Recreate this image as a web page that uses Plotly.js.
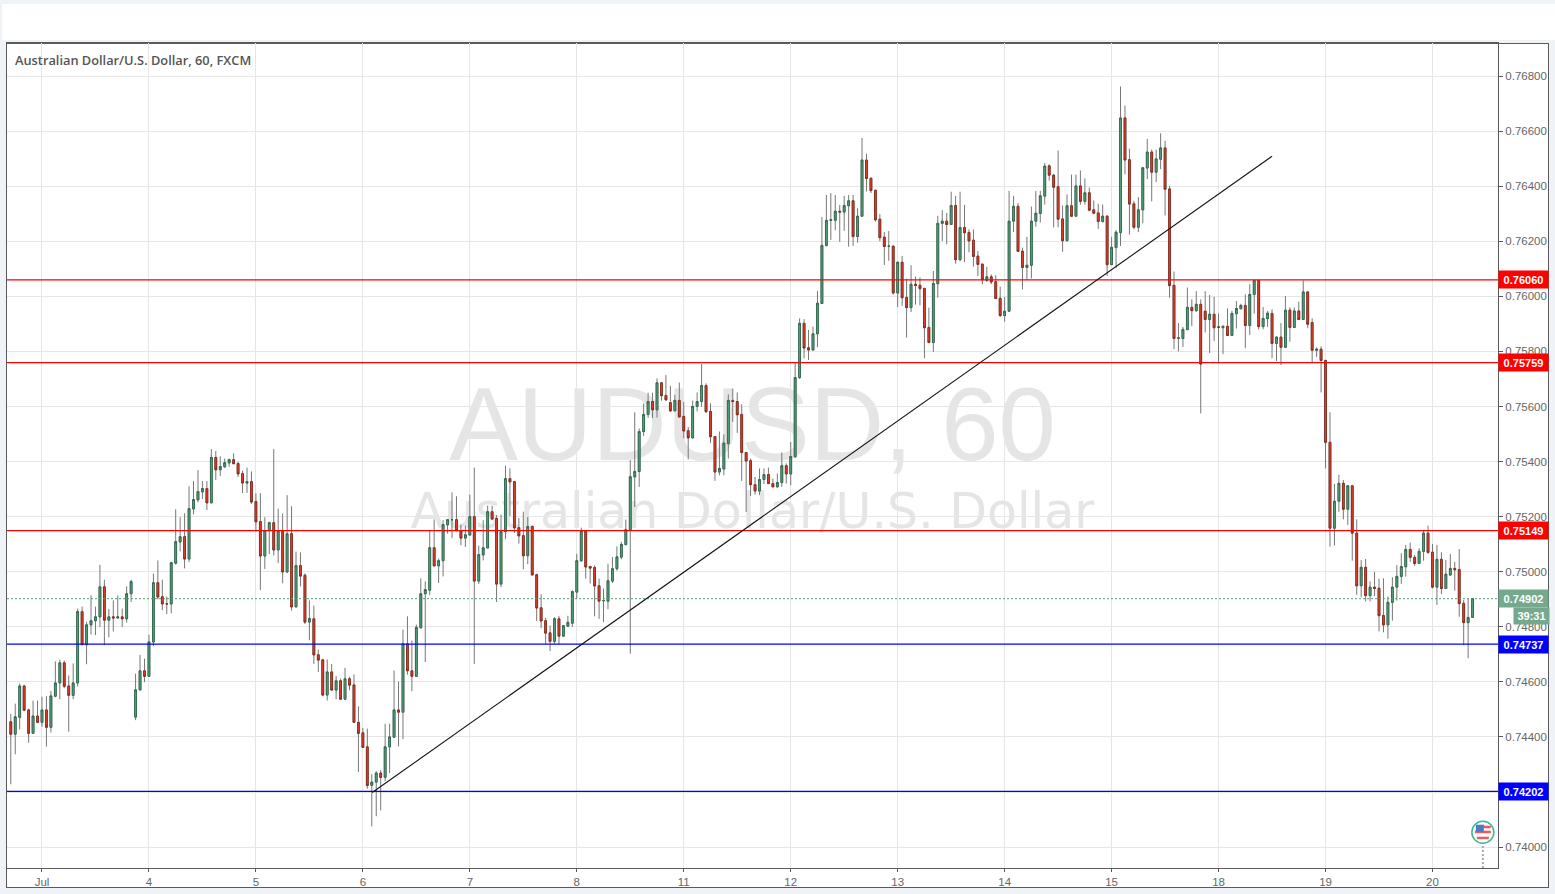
<!DOCTYPE html>
<html>
<head>
<meta charset="utf-8">
<script src="https://cdn.plot.ly/plotly-3.0.1.min.js"></script>
<style>
html,body{margin:0;padding:0;background:#eff3f7;width:1555px;height:894px;overflow:hidden}
#band{position:absolute;left:2px;top:4px;width:1553px;height:36px;background:#fff}
#frame{position:absolute;left:6px;top:43px;width:1543px;height:845px;background:#fff;box-sizing:border-box;border:1px solid #5a5a5a}
#chart{position:absolute;left:0;top:0;width:1555px;height:894px}
</style>
</head>
<body>
<div id="band"></div>
<div id="frame"></div>
<div id="chart"></div>
<script>
const opens=[
0.74455,0.74410,0.74471,0.74585,0.74498,0.74413,0.74476,0.74453,0.74498,0.74435,
0.74548,0.74596,0.74669,0.74585,0.74551,0.74596,0.74855,0.74735,0.74807,0.74822,
0.74836,0.74945,0.74824,0.74836,0.74832,0.74836,0.74829,0.74920,0.74472,0.74571,
0.74640,0.74620,0.74745,0.74960,0.74909,0.74883,0.74883,0.75031,0.75108,0.75127,
0.75046,0.75228,0.75261,0.75290,0.75302,0.75250,0.75415,0.75370,0.75381,0.75395,
0.75407,0.75393,0.75356,0.75322,0.75327,0.75255,0.75182,0.75057,0.75149,0.75178,
0.75079,0.75149,0.74999,0.75138,0.74872,0.75022,0.74987,0.74817,0.74829,0.74698,
0.74680,0.74552,0.74636,0.74570,0.74604,0.74537,0.74611,0.74589,0.74453,0.74415,
0.74364,0.74224,0.74236,0.74269,0.74253,0.74364,0.74399,0.74498,0.74490,0.74738,
0.74640,0.74620,0.74796,0.74920,0.74933,0.75087,0.75021,0.75040,0.75170,0.75189,
0.75189,0.75149,0.75122,0.75133,0.75200,0.74966,0.75061,0.75086,0.75218,0.75193,
0.74955,0.75145,0.75338,0.75327,0.75160,0.75131,0.75058,0.75165,0.74989,0.74869,
0.74822,0.74778,0.74747,0.74829,0.74766,0.74802,0.74813,0.74926,0.75039,0.75147,
0.75019,0.75015,0.74949,0.74895,0.74893,0.74966,0.75011,0.75053,0.75098,0.75150,
0.75344,0.75364,0.75509,0.75571,0.75618,0.75588,0.75686,0.75640,0.75614,0.75584,
0.75622,0.75564,0.75512,0.75486,0.75600,0.75618,0.75676,0.75582,0.75491,0.75362,
0.75373,0.75465,0.75622,0.75618,0.75571,0.75433,0.75403,0.75316,0.75293,0.75335,
0.75353,0.75320,0.75308,0.75324,0.75385,0.75355,0.75417,0.75705,0.75902,0.75813,
0.75805,0.75864,0.75974,0.76184,0.76276,0.76276,0.76309,0.76306,0.76329,0.76347,
0.76217,0.76291,0.76495,0.76429,0.76385,0.76280,0.76215,0.76182,0.76182,0.76012,
0.76124,0.75996,0.75959,0.76044,0.76040,0.76029,0.75887,0.75832,0.76046,0.76265,
0.76273,0.76261,0.76330,0.76133,0.76250,0.76232,0.76204,0.76146,0.76117,0.76058,
0.76071,0.76053,0.75993,0.75930,0.75946,0.76273,0.76327,0.76164,0.76105,0.76113,
0.76273,0.76301,0.76364,0.76474,0.76440,0.76398,0.76281,0.76202,0.76329,0.76291,
0.76401,0.76345,0.76376,0.76314,0.76303,0.76272,0.76291,0.76115,0.76177,0.76232,
0.76648,0.76496,0.76336,0.76251,0.76314,0.76466,0.76524,0.76451,0.76498,0.76539,
0.76390,0.76040,0.75848,0.75847,0.75879,0.75960,0.75948,0.75971,0.75946,0.75916,
0.75935,0.75889,0.75886,0.75891,0.75858,0.75937,0.75955,0.75967,0.75894,0.76007,
0.76058,0.75890,0.75919,0.75938,0.75829,0.75852,0.75815,0.75950,0.75887,0.75947,
0.75916,0.76016,0.75905,0.75804,0.75808,0.75767,0.75470,0.75158,0.75256,0.75321,
0.75227,0.75312,0.75140,0.74949,0.75016,0.74913,0.74944,0.74940,0.74841,0.74807,
0.74889,0.74944,0.74983,0.75018,0.75081,0.75052,0.75030,0.75074,0.75140,0.75071,
0.74944,0.75045,0.74939,0.74988,0.75012,0.75008,0.74885,0.74815,0.74834];
const highs=[
0.74484,0.74521,0.74594,0.74589,0.74503,0.74532,0.74532,0.74546,0.74549,0.74567,
0.74674,0.74680,0.74677,0.74623,0.74667,0.74866,0.74873,0.74818,0.74914,0.74873,
0.75025,0.74971,0.74865,0.74896,0.74914,0.74866,0.74947,0.74971,0.74630,0.74698,
0.74684,0.74771,0.74993,0.75041,0.74971,0.74910,0.75033,0.75227,0.75198,0.75212,
0.75310,0.75329,0.75369,0.75329,0.75329,0.75445,0.75438,0.75419,0.75411,0.75411,
0.75430,0.75400,0.75367,0.75378,0.75364,0.75285,0.75285,0.75198,0.75182,0.75445,
0.75229,0.75211,0.75278,0.75238,0.75073,0.75070,0.74994,0.74896,0.74877,0.74717,
0.74681,0.74681,0.74665,0.74621,0.74612,0.74651,0.74618,0.74627,0.74511,0.74433,
0.74430,0.74265,0.74276,0.74280,0.74448,0.74448,0.74641,0.74601,0.74790,0.74838,
0.74750,0.74808,0.74976,0.74965,0.75148,0.75190,0.75048,0.75187,0.75189,0.75288,
0.75274,0.75171,0.75168,0.75280,0.75378,0.75095,0.75187,0.75240,0.75240,0.75206,
0.75207,0.75385,0.75375,0.75330,0.75195,0.75218,0.75199,0.75165,0.74993,0.74918,
0.74832,0.74805,0.74835,0.74839,0.74804,0.74840,0.74932,0.75065,0.75160,0.75147,
0.75019,0.75023,0.74975,0.74939,0.75029,0.75053,0.75092,0.75108,0.75189,0.75405,
0.75579,0.75520,0.75611,0.75650,0.75650,0.75702,0.75686,0.75714,0.75675,0.75643,
0.75687,0.75617,0.75526,0.75621,0.75651,0.75754,0.75684,0.75611,0.75492,0.75509,
0.75499,0.75644,0.75665,0.75651,0.75608,0.75433,0.75411,0.75344,0.75375,0.75375,
0.75378,0.75338,0.75356,0.75433,0.75393,0.75471,0.75759,0.75920,0.75917,0.75878,
0.75890,0.76019,0.76288,0.76368,0.76375,0.76368,0.76332,0.76365,0.76368,0.76368,
0.76320,0.76575,0.76518,0.76430,0.76388,0.76298,0.76234,0.76237,0.76186,0.76124,
0.76147,0.76064,0.76113,0.76072,0.76069,0.76029,0.75959,0.76092,0.76292,0.76313,
0.76303,0.76380,0.76365,0.76380,0.76332,0.76243,0.76243,0.76165,0.76117,0.76107,
0.76080,0.76077,0.76035,0.75998,0.76383,0.76365,0.76339,0.76177,0.76216,0.76326,
0.76383,0.76383,0.76484,0.76479,0.76445,0.76530,0.76330,0.76370,0.76442,0.76442,
0.76457,0.76428,0.76395,0.76348,0.76336,0.76333,0.76295,0.76216,0.76240,0.76762,
0.76693,0.76536,0.76347,0.76360,0.76467,0.76572,0.76533,0.76533,0.76592,0.76565,
0.76401,0.76090,0.75903,0.75889,0.76032,0.75989,0.76019,0.75989,0.76019,0.76005,
0.75998,0.75938,0.75895,0.75956,0.75947,0.75983,0.75973,0.76007,0.76044,0.76058,
0.76058,0.75961,0.75947,0.75953,0.75855,0.75903,0.76001,0.75960,0.75960,0.75981,
0.76058,0.76019,0.75920,0.75815,0.75818,0.75770,0.75579,0.75319,0.75352,0.75333,
0.75315,0.75315,0.75190,0.75042,0.75046,0.74965,0.74999,0.74974,0.74976,0.74910,
0.74980,0.75024,0.75067,0.75097,0.75106,0.75061,0.75085,0.75152,0.75167,0.75101,
0.75097,0.75071,0.75043,0.75064,0.75036,0.75082,0.74897,0.74903,0.74902];
const lows=[
0.74228,0.74337,0.74427,0.74493,0.74379,0.74413,0.74450,0.74437,0.74365,0.74416,
0.74544,0.74537,0.74577,0.74419,0.74537,0.74583,0.74735,0.74664,0.74772,0.74770,
0.74799,0.74733,0.74762,0.74783,0.74829,0.74799,0.74815,0.74890,0.74461,0.74568,
0.74599,0.74618,0.74730,0.74900,0.74860,0.74846,0.74849,0.75026,0.75074,0.75012,
0.75035,0.75208,0.75252,0.75264,0.75224,0.75250,0.75333,0.75348,0.75377,0.75381,
0.75392,0.75344,0.75286,0.75286,0.75246,0.75146,0.74933,0.75010,0.75064,0.75059,
0.75031,0.74958,0.74995,0.74859,0.74872,0.74947,0.74810,0.74751,0.74665,0.74636,
0.74548,0.74532,0.74570,0.74537,0.74537,0.74537,0.74570,0.74450,0.74272,0.74362,
0.74212,0.74075,0.74112,0.74133,0.74239,0.74269,0.74399,0.74366,0.74392,0.74626,
0.74566,0.74620,0.74796,0.74672,0.74915,0.75021,0.74959,0.74983,0.75138,0.75122,
0.75148,0.75096,0.75090,0.75132,0.74665,0.74955,0.75041,0.75086,0.75187,0.74890,
0.74944,0.75118,0.75202,0.75141,0.75102,0.75009,0.75027,0.74988,0.74821,0.74795,
0.74738,0.74712,0.74738,0.74736,0.74766,0.74801,0.74799,0.74902,0.75039,0.74975,
0.74957,0.74838,0.74829,0.74817,0.74864,0.74959,0.75004,0.75045,0.75098,0.74702,
0.75235,0.75308,0.75493,0.75559,0.75558,0.75560,0.75621,0.75621,0.75580,0.75584,
0.75562,0.75484,0.75408,0.75484,0.75582,0.75599,0.75577,0.75467,0.75330,0.75350,
0.75350,0.75411,0.75544,0.75504,0.75330,0.75217,0.75275,0.75280,0.75278,0.75318,
0.75318,0.75308,0.75306,0.75308,0.75320,0.75314,0.75415,0.75700,0.75775,0.75769,
0.75805,0.75815,0.75974,0.76184,0.76205,0.76240,0.76198,0.76238,0.76180,0.76183,
0.76195,0.76291,0.76381,0.76375,0.76271,0.76200,0.76114,0.76129,0.76007,0.75961,
0.75965,0.75850,0.75943,0.75970,0.75967,0.75775,0.75832,0.75798,0.75995,0.76201,
0.76189,0.76261,0.76118,0.76128,0.76125,0.76160,0.76108,0.76074,0.76044,0.76052,
0.76044,0.75992,0.75925,0.75908,0.75946,0.76234,0.76163,0.76025,0.76061,0.76065,
0.76253,0.76268,0.76333,0.76420,0.76250,0.76251,0.76162,0.76199,0.76291,0.76291,
0.76333,0.76333,0.76309,0.76298,0.76245,0.76268,0.76074,0.76115,0.76103,0.76183,
0.76443,0.76224,0.76243,0.76233,0.76265,0.76426,0.76345,0.76415,0.76462,0.76294,
0.75995,0.75808,0.75800,0.75816,0.75879,0.75892,0.75944,0.75575,0.75869,0.75794,
0.75838,0.75757,0.75790,0.75858,0.75858,0.75883,0.75953,0.75812,0.75860,0.75937,
0.75880,0.75880,0.75889,0.75775,0.75765,0.75750,0.75815,0.75835,0.75887,0.75916,
0.75916,0.75884,0.75758,0.75780,0.75651,0.75375,0.75091,0.75095,0.75218,0.75190,
0.75170,0.75040,0.74916,0.74907,0.74892,0.74892,0.74911,0.74783,0.74780,0.74757,
0.74822,0.74895,0.74956,0.74982,0.75036,0.75021,0.75028,0.75040,0.75065,0.74939,
0.74879,0.74919,0.74939,0.74984,0.74931,0.74836,0.74733,0.74686,0.74834];
const closes=[
0.74410,0.74473,0.74585,0.74497,0.74413,0.74476,0.74453,0.74498,0.74435,0.74549,
0.74596,0.74669,0.74584,0.74551,0.74596,0.74855,0.74735,0.74807,0.74822,0.74836,
0.74945,0.74824,0.74836,0.74832,0.74836,0.74829,0.74920,0.74964,0.74571,0.74640,
0.74620,0.74745,0.74960,0.74908,0.74883,0.74883,0.75033,0.75109,0.75127,0.75046,
0.75229,0.75262,0.75291,0.75302,0.75250,0.75415,0.75370,0.75382,0.75396,0.75407,
0.75392,0.75355,0.75322,0.75327,0.75253,0.75181,0.75057,0.75149,0.75178,0.75079,
0.75149,0.74999,0.75138,0.74872,0.75022,0.74984,0.74817,0.74830,0.74698,0.74679,
0.74552,0.74636,0.74570,0.74604,0.74537,0.74611,0.74588,0.74453,0.74413,0.74362,
0.74224,0.74236,0.74269,0.74253,0.74364,0.74400,0.74498,0.74490,0.74738,0.74640,
0.74620,0.74798,0.74920,0.74935,0.75087,0.75021,0.75040,0.75171,0.75189,0.75189,
0.75149,0.75122,0.75134,0.75200,0.74966,0.75062,0.75087,0.75218,0.75191,0.74955,
0.75145,0.75338,0.75326,0.75159,0.75130,0.75058,0.75164,0.74988,0.74868,0.74821,
0.74777,0.74747,0.74829,0.74766,0.74804,0.74816,0.74928,0.75040,0.75147,0.75017,
0.75013,0.74948,0.74893,0.74895,0.74967,0.75011,0.75054,0.75099,0.75153,0.75345,
0.75364,0.75509,0.75571,0.75618,0.75588,0.75686,0.75639,0.75624,0.75584,0.75622,
0.75562,0.75511,0.75486,0.75600,0.75618,0.75676,0.75581,0.75490,0.75362,0.75375,
0.75467,0.75622,0.75618,0.75570,0.75433,0.75402,0.75316,0.75293,0.75335,0.75353,
0.75320,0.75308,0.75324,0.75385,0.75355,0.75418,0.75705,0.75902,0.75812,0.75805,
0.75864,0.75975,0.76185,0.76276,0.76278,0.76309,0.76306,0.76330,0.76347,0.76217,
0.76291,0.76495,0.76428,0.76384,0.76278,0.76213,0.76181,0.76182,0.76012,0.76124,
0.75995,0.75959,0.76044,0.76039,0.76028,0.75886,0.75832,0.76047,0.76265,0.76273,
0.76261,0.76330,0.76133,0.76250,0.76231,0.76201,0.76145,0.76116,0.76060,0.76071,
0.76052,0.75992,0.75930,0.75946,0.76273,0.76327,0.76163,0.76105,0.76113,0.76273,
0.76302,0.76365,0.76473,0.76440,0.76396,0.76280,0.76202,0.76329,0.76291,0.76401,
0.76345,0.76376,0.76313,0.76302,0.76272,0.76291,0.76115,0.76178,0.76233,0.76648,
0.76495,0.76335,0.76251,0.76314,0.76467,0.76524,0.76451,0.76499,0.76539,0.76389,
0.76039,0.75847,0.75849,0.75880,0.75960,0.75948,0.75971,0.75754,0.75916,0.75935,
0.75886,0.75888,0.75891,0.75858,0.75938,0.75956,0.75967,0.75894,0.76007,0.76058,
0.75890,0.75920,0.75939,0.75829,0.75852,0.75815,0.75950,0.75887,0.75947,0.75916,
0.76016,0.75899,0.75804,0.75808,0.75767,0.75470,0.75158,0.75256,0.75321,0.75227,
0.75312,0.75140,0.74949,0.75016,0.74913,0.74944,0.74939,0.74840,0.74807,0.74889,
0.74944,0.74983,0.75019,0.75081,0.75052,0.75030,0.75074,0.75140,0.75070,0.74944,
0.75045,0.74939,0.74991,0.75012,0.75007,0.74884,0.74815,0.74834,0.74902];

const barIndex=opens.map((_,i)=>i);
const yTicks=[0.74,0.742,0.744,0.746,0.748,0.75,0.752,0.754,0.756,0.758,0.76,0.762,0.764,0.766,0.768];
const dayBars=[7,31,55,79,103,127,151,175,199,223,247,271,295,319];
const dayLabels=['Jul','4','5','6','7','8','11','12','13','14','15','18','19','20'];
const levels=[
 {price:0.76060,label:'0.76060',line:'#ff0000',box:'#ff0000'},
 {price:0.75759,label:'0.75759',line:'#ff0000',box:'#ff0000'},
 {price:0.75149,label:'0.75149',line:'#ff0000',box:'#ff0000'},
 {price:0.74737,label:'0.74737',line:'#0000ff',box:'#0000ff'},
 {price:0.74202,label:'0.74202',line:'#0000ff',box:'#0000ff'}
];
const lastPrice=0.74902, countdown='39:31', lastColor='#74a98d';
const trend={x0:81.1,y0:0.74198,x1:283,y1:0.76509};
const eventBar=330.3, eventPrice=0.74054;

const bodyHigh=opens.map((o,i)=>Math.max(o,closes[i]));
const bodyLow=opens.map((o,i)=>Math.min(o,closes[i]));

const wickColor='#777777';
const traces=[
 {type:'candlestick',x:barIndex,open:opens,high:highs,low:lows,close:closes,whiskerwidth:0,hoverinfo:'skip',
  increasing:{line:{color:wickColor,width:1},fillcolor:wickColor},
  decreasing:{line:{color:wickColor,width:1},fillcolor:wickColor}},
 {type:'candlestick',x:barIndex,open:opens,high:bodyHigh,low:bodyLow,close:closes,whiskerwidth:0,hoverinfo:'skip',
  increasing:{line:{color:'#2d6a4e',width:0.9},fillcolor:'#5aa880'},
  decreasing:{line:{color:'#8a2a1c',width:0.9},fillcolor:'#e8402c'}}
];

const shapes=[
 {type:'rect',xref:'paper',yref:'paper',x0:0,x1:1,y0:0.38,y1:0.72,layer:'below',line:{width:0},fillcolor:'rgba(0,0,0,0)',
  label:{text:'AUDUSD, 60',font:{family:'Liberation Sans',size:103,color:'#e5e5e5'},textposition:'middle center',padding:0}},
 {type:'rect',xref:'paper',yref:'paper',x0:0,x1:1,y0:0.3964,y1:0.4764,layer:'below',line:{width:0},fillcolor:'rgba(0,0,0,0)',
  label:{text:'Australian Dollar/U.S. Dollar',font:{family:'DejaVu Sans',size:49,color:'#e5e5e5'},textposition:'middle center',padding:0}}
];
levels.forEach(l=>shapes.push({type:'line',xref:'paper',x0:0,x1:1,yref:'y',y0:l.price,y1:l.price,line:{color:l.line,width:1.2}}));
shapes.push({type:'line',xref:'paper',x0:0,x1:1,yref:'y',y0:lastPrice,y1:lastPrice,line:{color:'#4f9d76',width:1,dash:'2px,2px'}});
shapes.push({type:'line',xref:'x',yref:'y',x0:trend.x0,y0:trend.y0,x1:trend.x1,y1:trend.y1,line:{color:'#111111',width:1.1}});
// economic-event marker
shapes.push({type:'line',xref:'x',x0:eventBar,x1:eventBar,yref:'paper',y0:0,y1:0.03,line:{color:'#a8a8a8',width:2,dash:'2px,2px'}});
const px=(a,b,c,d,color,kind)=>({type:kind||'rect',xref:'x',yref:'y',xsizemode:'pixel',ysizemode:'pixel',xanchor:eventBar,yanchor:eventPrice,x0:a,y0:b,x1:c,y1:d,fillcolor:color,line:{width:0}});
shapes.push({type:'circle',xref:'x',yref:'y',xsizemode:'pixel',ysizemode:'pixel',xanchor:eventBar,yanchor:eventPrice,x0:-11,y0:-11,x1:11,y1:11,fillcolor:'#ffffff',line:{color:'#3db897',width:1.5}});
shapes.push(px(-6,4,8,6.5,'#ef5a5f'));
shapes.push(px(-8,-1,8,1.5,'#ef5a5f'));
shapes.push(px(-6,-7,6,-4.5,'#ef5a5f'));
shapes.push(px(-7,0.5,1,7.5,'#4a7cc4'));

const annotations=[
 {xref:'paper',yref:'paper',x:0.0037,y:1.0,xanchor:'left',yanchor:'top',yshift:-6,showarrow:false,
  text:'Australian Dollar/U.S. Dollar, 60, FXCM',font:{family:'Open Sans',size:12.8,color:'#555555',weight:600}}
];
const boxFont={family:'Liberation Sans',size:11,color:'#ffffff',weight:700};
levels.forEach(l=>annotations.push({xref:'paper',yref:'y',x:1,y:l.price,xanchor:'left',yanchor:'middle',showarrow:false,
  text:l.label,bgcolor:l.box,width:47,height:15,borderpad:1,align:'center',font:boxFont}));
annotations.push({xref:'paper',yref:'y',x:1,y:lastPrice,xanchor:'left',yanchor:'middle',showarrow:false,text:lastPrice.toFixed(5),bgcolor:lastColor,width:47,height:15,borderpad:1,align:'center',font:boxFont});
annotations.push({xref:'paper',yref:'y',x:1,y:lastPrice,xanchor:'left',yanchor:'top',xshift:15,yshift:-8,showarrow:false,text:countdown,bgcolor:lastColor,width:33,height:14,borderpad:1,align:'center',font:boxFont});

const layout={
 width:1555,height:894,
 margin:{l:6.5,r:57,t:43,b:26,pad:0},
 paper_bgcolor:'rgba(0,0,0,0)',plot_bgcolor:'rgba(0,0,0,0)',
 showlegend:false,boxgap:0.42,boxmode:'overlay',
 xaxis:{range:[-0.85,333.7],tickmode:'array',tickvals:dayBars,ticktext:dayLabels,rangeslider:{visible:false},
  showgrid:true,gridcolor:'#e6e6e6',gridwidth:1,zeroline:false,showline:true,linecolor:'#5a5a5a',linewidth:1,mirror:true,
  ticks:'outside',ticklen:3,tickcolor:'#5a5a5a',tickfont:{family:'Liberation Sans',size:11.5,color:'#666666'}},
 yaxis:{range:[0.73924,0.7692],side:'right',tickmode:'array',tickvals:yTicks,ticktext:yTicks.map(v=>v.toFixed(5)),
  showgrid:true,gridcolor:'#e6e6e6',gridwidth:1,zeroline:false,showline:true,linecolor:'#5a5a5a',linewidth:1,mirror:true,
  ticks:'outside',ticklen:4,tickcolor:'#5a5a5a',tickfont:{family:'Liberation Sans',size:11.5,color:'#666666'}},
 shapes:shapes,annotations:annotations
};
Plotly.newPlot('chart',traces,layout,{displayModeBar:false,staticPlot:true});
</script>
</body>
</html>
